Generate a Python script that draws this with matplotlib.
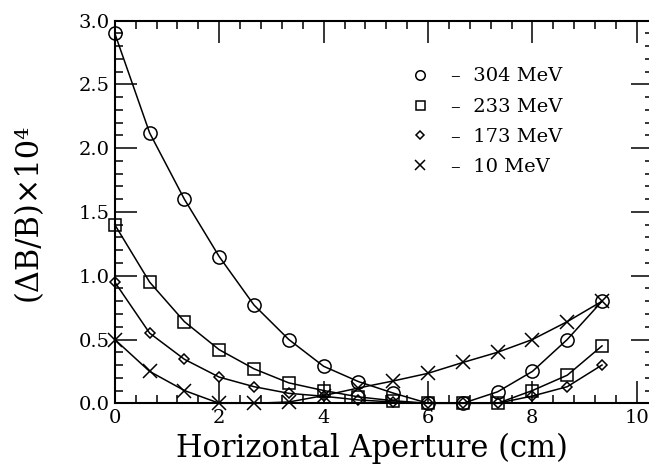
import matplotlib
matplotlib.use("Agg")
import matplotlib.pyplot as plt
from matplotlib.lines import Line2D
from matplotlib.ticker import MultipleLocator

plt.rcParams['font.family'] = ['DejaVu Serif']

aperture = [0.0, 0.667, 1.333, 2.0, 2.667, 3.333, 4.0, 4.667, 5.333, 6.0, 6.667, 7.333, 8.0, 8.667, 9.333]
e304 = [2.90, 2.12, 1.60, 1.15, 0.77, 0.50, 0.29, 0.17, 0.08, 0.0, 0.0, 0.09, 0.25, 0.50, 0.80]
e233 = [1.40, 0.95, 0.64, 0.42, 0.27, 0.16, 0.10, 0.05, 0.02, 0.0, 0.0, 0.0, 0.10, 0.22, 0.45]
e173 = [0.95, 0.55, 0.345, 0.205, 0.13, 0.078, 0.055, 0.026, 0.01, 0.0, 0.0, 0.0, 0.057, 0.13, 0.30]
e10 = [0.50, 0.25, 0.10, 0.0, 0.0, 0.01, 0.06, 0.12, 0.175, 0.235, 0.32, 0.40, 0.50, 0.64, 0.80]
labels = ['–  304 MeV', '–  233 MeV', '–  173 MeV', '–  10 MeV']

fig = plt.figure(figsize=(6.49, 4.75), dpi=100)
ax = fig.add_axes([0.1769, 0.151, 0.8285, 0.8055])

series = [(e304, 'o', 9.5), (e233, 's', 9), (e173, 'D', 5.5), (e10, 'x', 9.5)]
for vals, m, ms in series:
    ax.plot(aperture, vals, color='black', lw=1.1, marker=m, ms=ms,
            mfc='none', mec='black', mew=1.1, clip_on=False, zorder=3)

ax.set_xlim(0, 10.3)
ax.set_ylim(0, 3.0)
ax.xaxis.set_major_locator(MultipleLocator(2))
ax.xaxis.set_minor_locator(MultipleLocator(0.4))
ax.yaxis.set_major_locator(MultipleLocator(0.5))
ax.yaxis.set_minor_locator(MultipleLocator(0.1))
ax.xaxis.set_major_formatter(plt.FuncFormatter(lambda v, p: f'{v:.0f}'))
ax.yaxis.set_major_formatter(plt.FuncFormatter(lambda v, p: f'{v:.1f}'))
ax.tick_params(which='both', direction='in', top=True, right=True, width=1.1, labelsize=14, color='black')
ax.tick_params(which='major', length=15.6, pad=4)
ax.tick_params(which='minor', length=6)
for s in ax.spines.values():
    s.set_linewidth(1.5)

ax.set_xlabel('Horizontal Aperture (cm)', fontsize=22, labelpad=4, x=0.479)
ax.set_ylabel('(ΔB/B)×10⁴', fontsize=22, labelpad=25)

handles = [Line2D([], [], ls='none', marker=m, ms=s * 0.72, mfc='none', mec='black', mew=1.1, color='black')
           for _, m, s in series]
ax.legend(handles, labels, loc='upper left', bbox_to_anchor=(0.549, 0.878), frameon=False,
          fontsize=14, handlelength=1.0, handletextpad=1.1, labelspacing=0.63, borderaxespad=0,
          borderpad=0)

fig.savefig('out.png', dpi=100)
